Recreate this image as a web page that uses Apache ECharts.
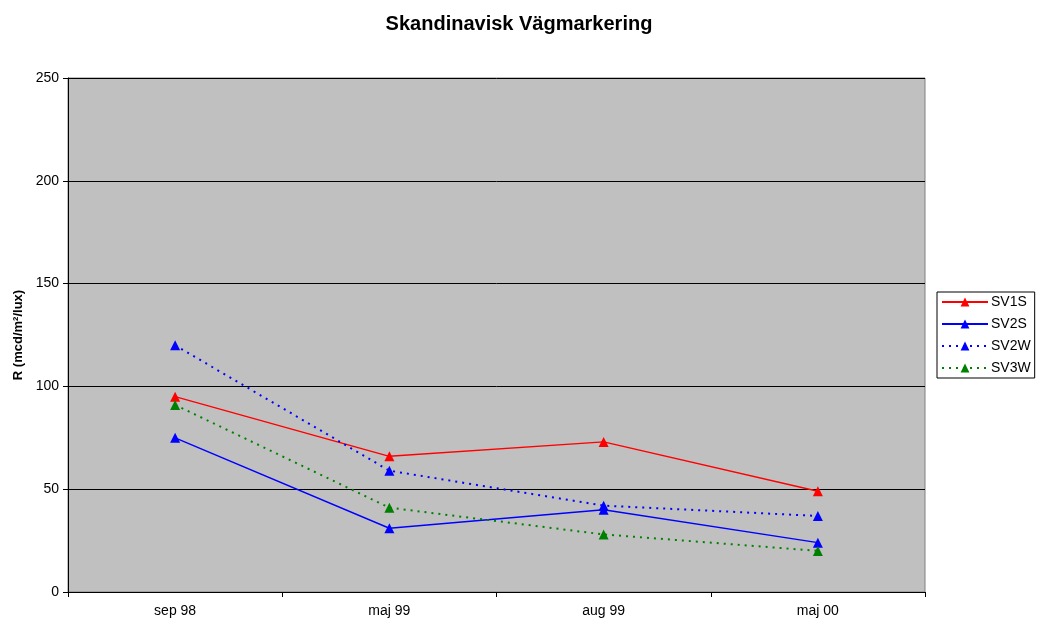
<!DOCTYPE html>
<html>
<head>
<meta charset="utf-8">
<script src="https://cdn.jsdelivr.net/npm/echarts@6/dist/echarts.min.js"></script>
<style>
  html, body { margin: 0; padding: 0; background: #fff; }
  #chart { width: 1038px; height: 624px; }
</style>
</head>
<body>
<div id="chart"></div>
<script>
const categories = ['sep 98', 'maj 99', 'aug 99', 'maj 00'];
const sv1s = [95, 66, 73, 49];
const sv2s = [75, 31, 40, 24];
const sv2w = [120, 59, 42, 37];
const sv3w = [91, 41, 28, 20];

const myChart = echarts.init(document.getElementById('chart'));

// en serie per mätserie, prickade för W
const makeSeries = (name, data, color, dotted) => ({
  name: name,
  type: 'line',
  data: data,
  symbol: 'triangle',
  symbolSize: 10,
  itemStyle: { color: color },
  lineStyle: { color: color, width: dotted ? 2 : 1.4, type: dotted ? [2, 5] : 'solid' },
  emphasis: { disabled: true }
});

const option = {
  animation: false,
  textStyle: { fontFamily: 'Liberation Sans, Arial, sans-serif' },
  title: {
    text: 'Skandinavisk Vägmarkering',
    left: 'center',
    top: 9,
    textStyle: { fontSize: 20, fontWeight: 'bold', color: '#000' }
  },
  legend: {
    orient: 'vertical',
    left: 937,
    top: 292,
    itemWidth: 46,
    itemHeight: 11,
    itemGap: 8,
    padding: [3, 4, 3, 4],
    borderColor: '#000',
    borderWidth: 1,
    backgroundColor: '#fff',
    textStyle: { fontSize: 14, color: '#000', padding: [0, 0, 0, -2] },
    data: ['SV1S', 'SV2S', 'SV2W', 'SV3W']
  },
  grid: {
    left: 68,
    right: 113,
    top: 78,
    bottom: 32,
    show: true,
    backgroundColor: '#C0C0C0',
    borderColor: '#808080',
    borderWidth: 1
  },
  xAxis: {
    type: 'category',
    data: categories,
    boundaryGap: true,
    axisLine: { lineStyle: { color: '#000', width: 1 } },
    axisTick: { show: true, length: 5, inside: false, lineStyle: { color: '#000' } },
    axisLabel: { fontSize: 14, color: '#000', margin: 12 }
  },
  yAxis: {
    type: 'value',
    min: 0,
    max: 250,
    interval: 50,
    name: 'R (mcd/m²/lux)',
    nameLocation: 'middle',
    nameGap: 42,
    nameTextStyle: { fontSize: 13, fontWeight: 'bold', color: '#000' },
    axisLine: { show: true, lineStyle: { color: '#000', width: 1 } },
    axisTick: { show: true, length: 5, lineStyle: { color: '#000' } },
    axisLabel: { fontSize: 14, color: '#000', margin: 9 },
    splitLine: { lineStyle: { color: '#000', width: 1 } }
  },
  series: [
    makeSeries('SV1S', sv1s, '#FF0000', false),
    makeSeries('SV2S', sv2s, '#0000FF', false),
    makeSeries('SV2W', sv2w, '#0000FF', true),
    makeSeries('SV3W', sv3w, '#008000', true)
  ]
};

myChart.setOption(option);
window.addEventListener('resize', () => myChart.resize());
</script>
</body>
</html>
